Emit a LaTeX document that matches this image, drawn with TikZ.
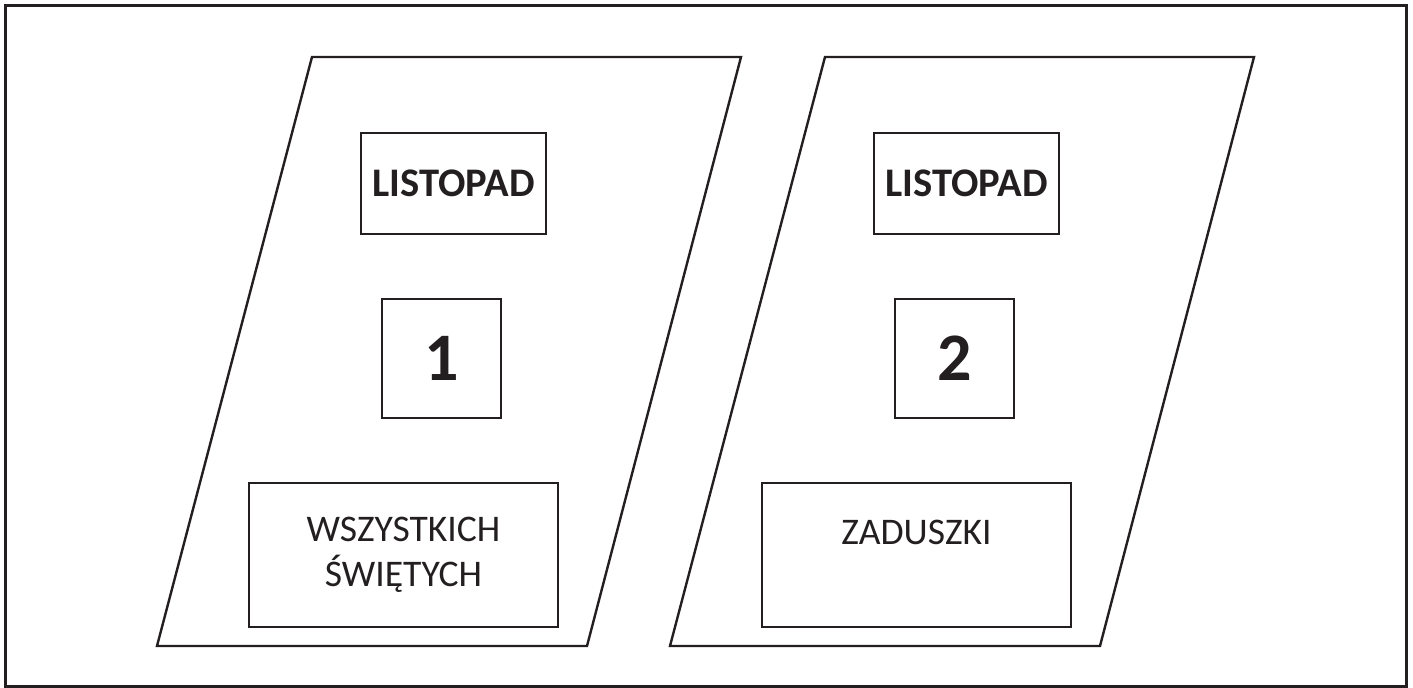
\documentclass[tikz,border=0pt]{standalone}
\usepackage{fontspec}
\setmainfont{Carlito}
\usepackage{tikz}
\usetikzlibrary{positioning}

\definecolor{ink}{HTML}{231F20}

\tikzset{
    card/.style={draw=ink, line width=1.2pt, line join=miter},
    monthbox/.style={draw=ink, line width=1.2pt, inner sep=0pt, minimum width=92.5pt, minimum height=50.5pt, font=\fontsize{20.3}{24}\selectfont\bfseries, text=ink},
    daybox/.style={draw=ink, line width=1.2pt, inner sep=0pt, minimum width=59.5pt, minimum height=59.5pt, font=\fontsize{34}{40}\selectfont\bfseries, text=ink},
    namebox/.style={draw=ink, line width=1.2pt, inner sep=0pt, minimum width=154.5pt, minimum height=72pt, align=center, font=\fontsize{18.8}{22.5}\selectfont, text=ink}
}

\begin{document}
\begin{tikzpicture}[x=0.5pt, y=-0.5pt]
    \useasboundingbox (0,0) rectangle (1413,688);

    % ramka
    \draw[draw=ink, line width=1.5pt] (5,6) rectangle (1406,687);

    % dwie kartki kalendarza
    \foreach \i/\num/\name in {0/1/{WSZYSTKICH\\ŚWIĘTYCH}, 1/2/{ZADUSZKI\\\mbox{}}}
    {
        \begin{scope}[xshift=\i*256.5pt]
            \draw[card] (312,57) -- (741,57) -- (587,646) -- (157,646) -- cycle;
            \node[monthbox] (month\num) at (453.5,183.5) {LISTOPAD};
            \node[daybox] (day\num) at (441.5,358.5) {\num};
            \node[namebox] (name\num) at (403.5,555) {\name};
        \end{scope}
    }
\end{tikzpicture}
\end{document}
